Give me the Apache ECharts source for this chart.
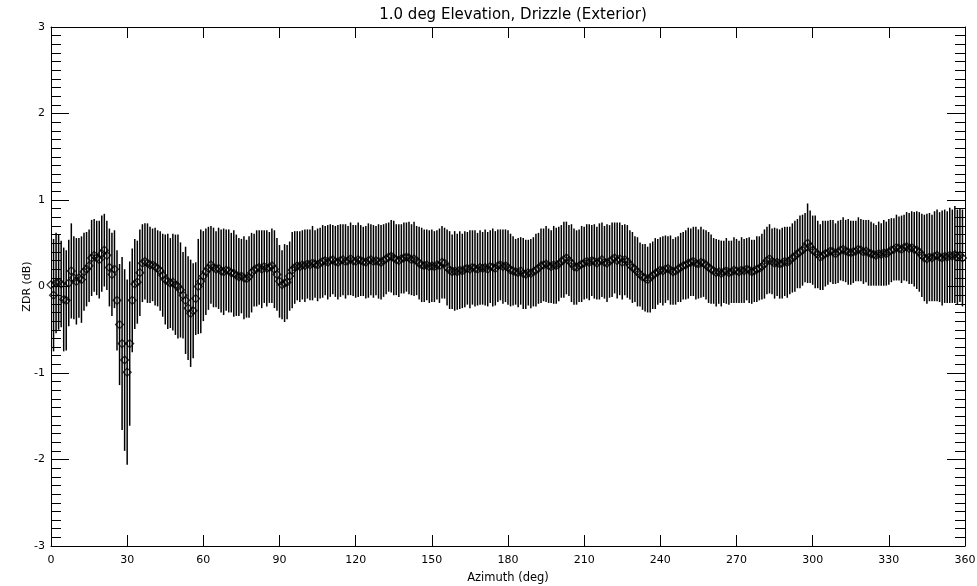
<!DOCTYPE html>
<html>
<head>
<meta charset="utf-8">
<script src="https://cdn.jsdelivr.net/npm/echarts@6/dist/echarts.min.js"></script>
<style>
html,body{margin:0;padding:0;background:#fff;}
#chart{width:977px;height:586px;}
</style>
</head>
<body>
<div id="chart"></div>
<script>
// Azimuth (deg), one sample per degree
const azimuth = Array.from({length: 360}, (_, i) => i);

// Mean ZDR (dB) per azimuth degree
const zdrMean = [
  0.02, -0.10, 0.04, 0.05, 0.03, -0.15, -0.16, 0.04, 0.18, 0.10,
  0.06, 0.10, 0.08, 0.17, 0.20, 0.24, 0.33, 0.36, 0.33, 0.31,
  0.38, 0.42, 0.36, 0.22, 0.14, 0.20, -0.16, -0.44, -0.66, -0.85,
  -0.99, -0.66, -0.16, 0.03, 0.05, 0.16, 0.27, 0.29, 0.27, 0.25,
  0.25, 0.23, 0.21, 0.18, 0.13, 0.08, 0.06, 0.04, 0.05, 0.02,
  0.00, -0.04, -0.10, -0.16, -0.25, -0.31, -0.28, -0.14, 0.00, 0.06,
  0.12, 0.17, 0.21, 0.25, 0.22, 0.20, 0.21, 0.18, 0.17, 0.19,
  0.18, 0.16, 0.15, 0.13, 0.11, 0.12, 0.10, 0.09, 0.11, 0.16,
  0.19, 0.21, 0.22, 0.20, 0.23, 0.21, 0.22, 0.24, 0.20, 0.14,
  0.06, 0.02, 0.04, 0.05, 0.12, 0.19, 0.22, 0.24, 0.23, 0.25,
  0.24, 0.26, 0.25, 0.27, 0.26, 0.25, 0.27, 0.29, 0.30, 0.28,
  0.30, 0.31, 0.29, 0.28, 0.30, 0.31, 0.29, 0.30, 0.32, 0.30,
  0.29, 0.31, 0.30, 0.29, 0.28, 0.30, 0.31, 0.29, 0.30, 0.29,
  0.28, 0.30, 0.32, 0.34, 0.35, 0.33, 0.31, 0.30, 0.32, 0.33,
  0.34, 0.33, 0.31, 0.32, 0.30, 0.27, 0.25, 0.24, 0.25, 0.23,
  0.24, 0.23, 0.25, 0.24, 0.28, 0.27, 0.22, 0.19, 0.17, 0.18,
  0.17, 0.19, 0.18, 0.20, 0.21, 0.20, 0.22, 0.21, 0.20, 0.22,
  0.21, 0.22, 0.20, 0.23, 0.22, 0.21, 0.24, 0.25, 0.23, 0.24,
  0.22, 0.19, 0.18, 0.17, 0.16, 0.18, 0.15, 0.14, 0.16, 0.15,
  0.17, 0.19, 0.21, 0.24, 0.25, 0.26, 0.24, 0.23, 0.25, 0.24,
  0.26, 0.29, 0.31, 0.33, 0.30, 0.27, 0.23, 0.22, 0.24, 0.26,
  0.27, 0.29, 0.28, 0.30, 0.29, 0.27, 0.29, 0.31, 0.28, 0.27,
  0.29, 0.31, 0.33, 0.30, 0.32, 0.28, 0.31, 0.29, 0.25, 0.22,
  0.20, 0.17, 0.14, 0.11, 0.10, 0.08, 0.10, 0.13, 0.15, 0.17,
  0.19, 0.18, 0.20, 0.21, 0.19, 0.17, 0.18, 0.20, 0.22, 0.24,
  0.25, 0.27, 0.28, 0.29, 0.27, 0.26, 0.28, 0.27, 0.25, 0.22,
  0.20, 0.18, 0.16, 0.17, 0.15, 0.17, 0.18, 0.16, 0.17, 0.19,
  0.18, 0.17, 0.19, 0.18, 0.20, 0.19, 0.17, 0.18, 0.20, 0.21,
  0.23, 0.26, 0.30, 0.32, 0.29, 0.27, 0.28, 0.26, 0.27, 0.29,
  0.28, 0.30, 0.33, 0.35, 0.38, 0.40, 0.42, 0.45, 0.50, 0.46,
  0.42, 0.40, 0.37, 0.34, 0.36, 0.38, 0.39, 0.41, 0.40, 0.38,
  0.40, 0.42, 0.43, 0.41, 0.40, 0.39, 0.40, 0.41, 0.43, 0.42,
  0.40, 0.41, 0.39, 0.38, 0.37, 0.36, 0.38, 0.37, 0.39, 0.38,
  0.40, 0.42, 0.43, 0.45, 0.44, 0.43, 0.45, 0.46, 0.44, 0.45,
  0.43, 0.42, 0.40, 0.36, 0.33, 0.32, 0.34, 0.33, 0.35, 0.36,
  0.34, 0.33, 0.35, 0.34, 0.36, 0.35, 0.37, 0.34, 0.36, 0.33
];

// Standard deviation (half error bar length, dB) per azimuth degree
const zdrStd = [
  0.62, 0.65, 0.58, 0.55, 0.50, 0.60, 0.58, 0.50, 0.55, 0.48,
  0.50, 0.46, 0.50, 0.45, 0.43, 0.42, 0.44, 0.42, 0.43, 0.45,
  0.44, 0.42, 0.40, 0.45, 0.48, 0.45, 0.58, 0.70, 1.00, 1.05,
  1.07, 0.95, 0.60, 0.52, 0.48, 0.50, 0.45, 0.44, 0.46, 0.44,
  0.42, 0.45, 0.44, 0.46, 0.48, 0.52, 0.55, 0.52, 0.56, 0.58,
  0.60, 0.55, 0.50, 0.62, 0.60, 0.62, 0.55, 0.42, 0.55, 0.60,
  0.52, 0.50, 0.48, 0.45, 0.46, 0.44, 0.47, 0.48, 0.50, 0.47,
  0.48, 0.46, 0.50, 0.47, 0.45, 0.43, 0.48, 0.45, 0.47, 0.46,
  0.42, 0.44, 0.43, 0.45, 0.42, 0.44, 0.41, 0.43, 0.45, 0.42,
  0.42, 0.40, 0.45, 0.43, 0.40, 0.44, 0.42, 0.40, 0.41, 0.40,
  0.42, 0.40, 0.41, 0.43, 0.39, 0.42, 0.41, 0.42, 0.40, 0.43,
  0.42, 0.40, 0.41, 0.43, 0.42, 0.41, 0.43, 0.40, 0.42, 0.41,
  0.42, 0.43, 0.41, 0.40, 0.42, 0.43, 0.41, 0.42, 0.40, 0.43,
  0.43, 0.42, 0.41, 0.40, 0.42, 0.43, 0.41, 0.42, 0.40, 0.41,
  0.40, 0.42, 0.41, 0.43, 0.40, 0.42, 0.43, 0.42, 0.41, 0.42,
  0.42, 0.41, 0.40, 0.43, 0.42, 0.41, 0.44, 0.45, 0.43, 0.46,
  0.44, 0.45, 0.43, 0.44, 0.42, 0.45, 0.43, 0.44, 0.42, 0.43,
  0.42, 0.44, 0.43, 0.42, 0.45, 0.43, 0.42, 0.41, 0.43, 0.42,
  0.43, 0.42, 0.40, 0.38, 0.40, 0.39, 0.41, 0.40, 0.38, 0.40,
  0.40, 0.42, 0.41, 0.43, 0.42, 0.44, 0.43, 0.42, 0.45, 0.44,
  0.43, 0.42, 0.44, 0.42, 0.41, 0.45, 0.44, 0.43, 0.42, 0.44,
  0.42, 0.43, 0.44, 0.41, 0.43, 0.42, 0.44, 0.43, 0.42, 0.45,
  0.42, 0.43, 0.41, 0.44, 0.42, 0.43, 0.41, 0.42, 0.40, 0.41,
  0.38, 0.40, 0.37, 0.38, 0.39, 0.38, 0.40, 0.39, 0.41, 0.38,
  0.38, 0.40, 0.39, 0.37, 0.40, 0.38, 0.39, 0.38, 0.40, 0.39,
  0.40, 0.41, 0.39, 0.40, 0.42, 0.40, 0.41, 0.39, 0.40, 0.41,
  0.40, 0.38, 0.39, 0.37, 0.38, 0.36, 0.38, 0.37, 0.36, 0.38,
  0.37, 0.36, 0.38, 0.37, 0.36, 0.38, 0.37, 0.36, 0.38, 0.37,
  0.38, 0.40, 0.39, 0.40, 0.38, 0.41, 0.39, 0.40, 0.41, 0.40,
  0.41, 0.39, 0.40, 0.41, 0.40, 0.42, 0.41, 0.40, 0.46, 0.42,
  0.40, 0.42, 0.39, 0.38, 0.40, 0.38, 0.37, 0.36, 0.37, 0.35,
  0.36, 0.35, 0.37, 0.36, 0.38, 0.37, 0.36, 0.35, 0.37, 0.36,
  0.37, 0.36, 0.38, 0.37, 0.36, 0.35, 0.37, 0.36, 0.38, 0.37,
  0.38, 0.37, 0.36, 0.38, 0.37, 0.39, 0.38, 0.40, 0.41, 0.42,
  0.43, 0.45, 0.46, 0.48, 0.50, 0.52, 0.51, 0.50, 0.52, 0.53,
  0.52, 0.55, 0.54, 0.53, 0.55, 0.54, 0.56, 0.55, 0.54, 0.56
];

const xTicks = [0, 30, 60, 90, 120, 150, 180, 210, 240, 270, 300, 330, 360];
const yTicks = [-3, -2, -1, 0, 1, 2, 3];

const errData = azimuth.map((a, i) => [a, zdrMean[i] - zdrStd[i], zdrMean[i] + zdrStd[i]]);
const meanData = azimuth.map((a, i) => [a, zdrMean[i]]);

const FONT = 'DejaVu Sans';
const chart = echarts.init(document.getElementById('chart'), null, {renderer: 'canvas'});

const xBase = {
  type: 'value', min: 0, max: 360, interval: 30,
  splitLine: {show: false},
  axisLine: {show: true, onZero: false, lineStyle: {color: '#000', width: 1}},
  axisTick: {show: true, inside: true, length: 11, lineStyle: {color: '#000', width: 1}},
  minorTick: {show: false}
};
const yBase = {
  type: 'value', min: -3, max: 3, interval: 1,
  splitLine: {show: false},
  axisLine: {show: true, onZero: false, lineStyle: {color: '#000', width: 1}},
  axisTick: {show: true, inside: true, length: 18, lineStyle: {color: '#000', width: 1}},
  minorTick: {show: true, splitNumber: 10, length: 10, lineStyle: {color: '#000', width: 1}},
  minorSplitLine: {show: false}
};

chart.setOption({
  animation: false,
  backgroundColor: '#fff',
  title: {
    text: '1.0 deg Elevation, Drizzle (Exterior)',
    left: 508, top: 3, textAlign: 'center',
    textStyle: {fontFamily: FONT, fontSize: 15, fontWeight: 'normal', color: '#000'}
  },
  grid: {left: 51, right: 12, top: 27, bottom: 40, containLabel: false, outerBoundsMode: 'none'},
  xAxis: [
    Object.assign({}, xBase, {
      position: 'bottom',
      name: 'Azimuth (deg)', nameLocation: 'middle', nameGap: 26,
      nameTextStyle: {fontFamily: FONT, fontSize: 11.5, color: '#000'},
      axisLabel: {show: true, fontFamily: FONT, fontSize: 11, color: '#000', margin: 9}
    }),
    Object.assign({}, xBase, {position: 'top', axisLabel: {show: false}})
  ],
  yAxis: [
    Object.assign({}, yBase, {
      position: 'left',
      name: 'ZDR (dB)', nameLocation: 'middle', nameGap: 18, nameRotate: 90,
      nameMoveOverlap: false,
      nameTextStyle: {fontFamily: FONT, fontSize: 11, color: '#000'},
      axisLabel: {show: true, fontFamily: FONT, fontSize: 11, color: '#000', margin: 6}
    }),
    Object.assign({}, yBase, {position: 'right', axisLabel: {show: false}})
  ],
  series: [
    {
      type: 'custom',
      xAxisIndex: 0, yAxisIndex: 0,
      data: errData,
      clip: true,
      renderItem: function (params, api) {
        const x = api.value(0);
        const p1 = api.coord([x, api.value(1)]);
        const p2 = api.coord([x, api.value(2)]);
        return {
          type: 'line',
          shape: {x1: p1[0], y1: p1[1], x2: p2[0], y2: p2[1]},
          style: {stroke: '#000', lineWidth: 1.5}
        };
      },
      silent: true
    },
    {
      type: 'scatter',
      xAxisIndex: 0, yAxisIndex: 0,
      data: meanData,
      symbol: 'diamond',
      symbolSize: [8, 8],
      itemStyle: {color: 'rgba(0,0,0,0)', borderColor: '#000', borderWidth: 1.2},
      silent: true
    }
  ]
});
</script>
</body>
</html>
